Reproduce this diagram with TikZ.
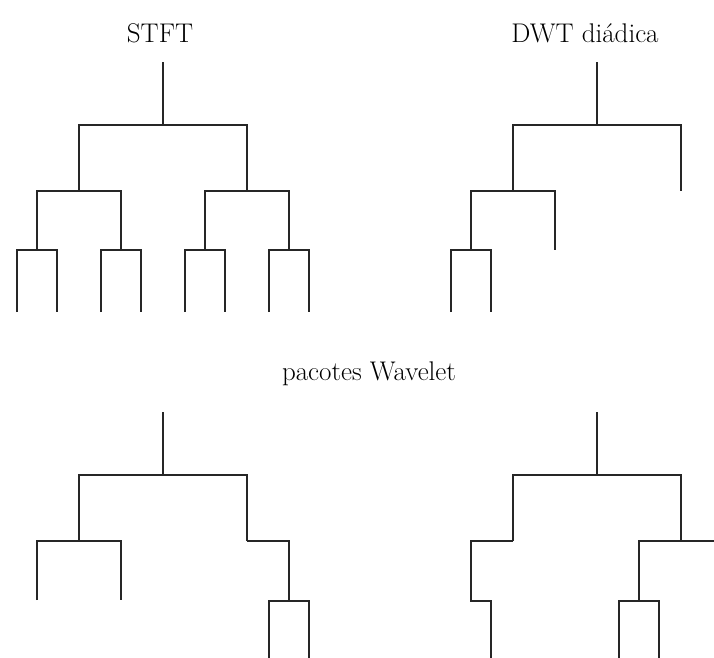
\documentclass[tikz,border=0pt]{standalone}
\begin{document}
\begin{tikzpicture}[x=1pt,y=-1pt,
  branch/.style={line width=2pt,draw=black!85,line join=miter,line cap=butt},
  lbl/.style={anchor=base,inner sep=0pt,font=\fontsize{27}{32}\selectfont}]
\useasboundingbox (0,0) rectangle (714,657);
\clip (0,0) rectangle (714,657);
% titles
\node[lbl] (stft) at (160,42) {STFT};
\node[lbl] (dwt) at (585,42) {DWT diádica};
\node[lbl] (pac) at (369,380) {pacotes Wavelet};
% ---------- STFT ----------
\draw[branch] (163,62) -- (163,125);
\draw[branch] (79,191) -- (79,125) -- (247,125) -- (247,191);
\draw[branch] (37,250) -- (37,191) -- (121,191) -- (121,250);
\draw[branch] (205,250) -- (205,191) -- (289,191) -- (289,250);
\foreach \c in {37,121,205,289}
  \draw[branch] (\c-20,312) -- (\c-20,250) -- (\c+20,250) -- (\c+20,312);
% ---------- DWT ----------
\draw[branch] (597,62) -- (597,125);
\draw[branch] (513,191) -- (513,125) -- (681,125) -- (681,191);
\draw[branch] (471,250) -- (471,191) -- (555,191) -- (555,250);
\draw[branch] (451,312) -- (451,250) -- (491,250) -- (491,312);
% ---------- pacotes (left) ----------
\draw[branch] (163,412) -- (163,475);
\draw[branch] (79,541) -- (79,475) -- (247,475) -- (247,541);
\draw[branch] (37,600) -- (37,541) -- (121,541) -- (121,600);
\draw[branch] (247,541) -- (289,541) -- (289,601);
\draw[branch] (269,662) -- (269,601) -- (309,601) -- (309,662);
% ---------- pacotes (right) ----------
\draw[branch] (597,412) -- (597,475);
\draw[branch] (513,541) -- (513,475) -- (681,475) -- (681,541);
\draw[branch] (513,541) -- (471,541) -- (471,601) -- (491,601) -- (491,662);
\draw[branch] (639,601) -- (639,541) -- (723,541) -- (723,601);
\draw[branch] (619,662) -- (619,601) -- (659,601) -- (659,662);
\end{tikzpicture}
\end{document}
